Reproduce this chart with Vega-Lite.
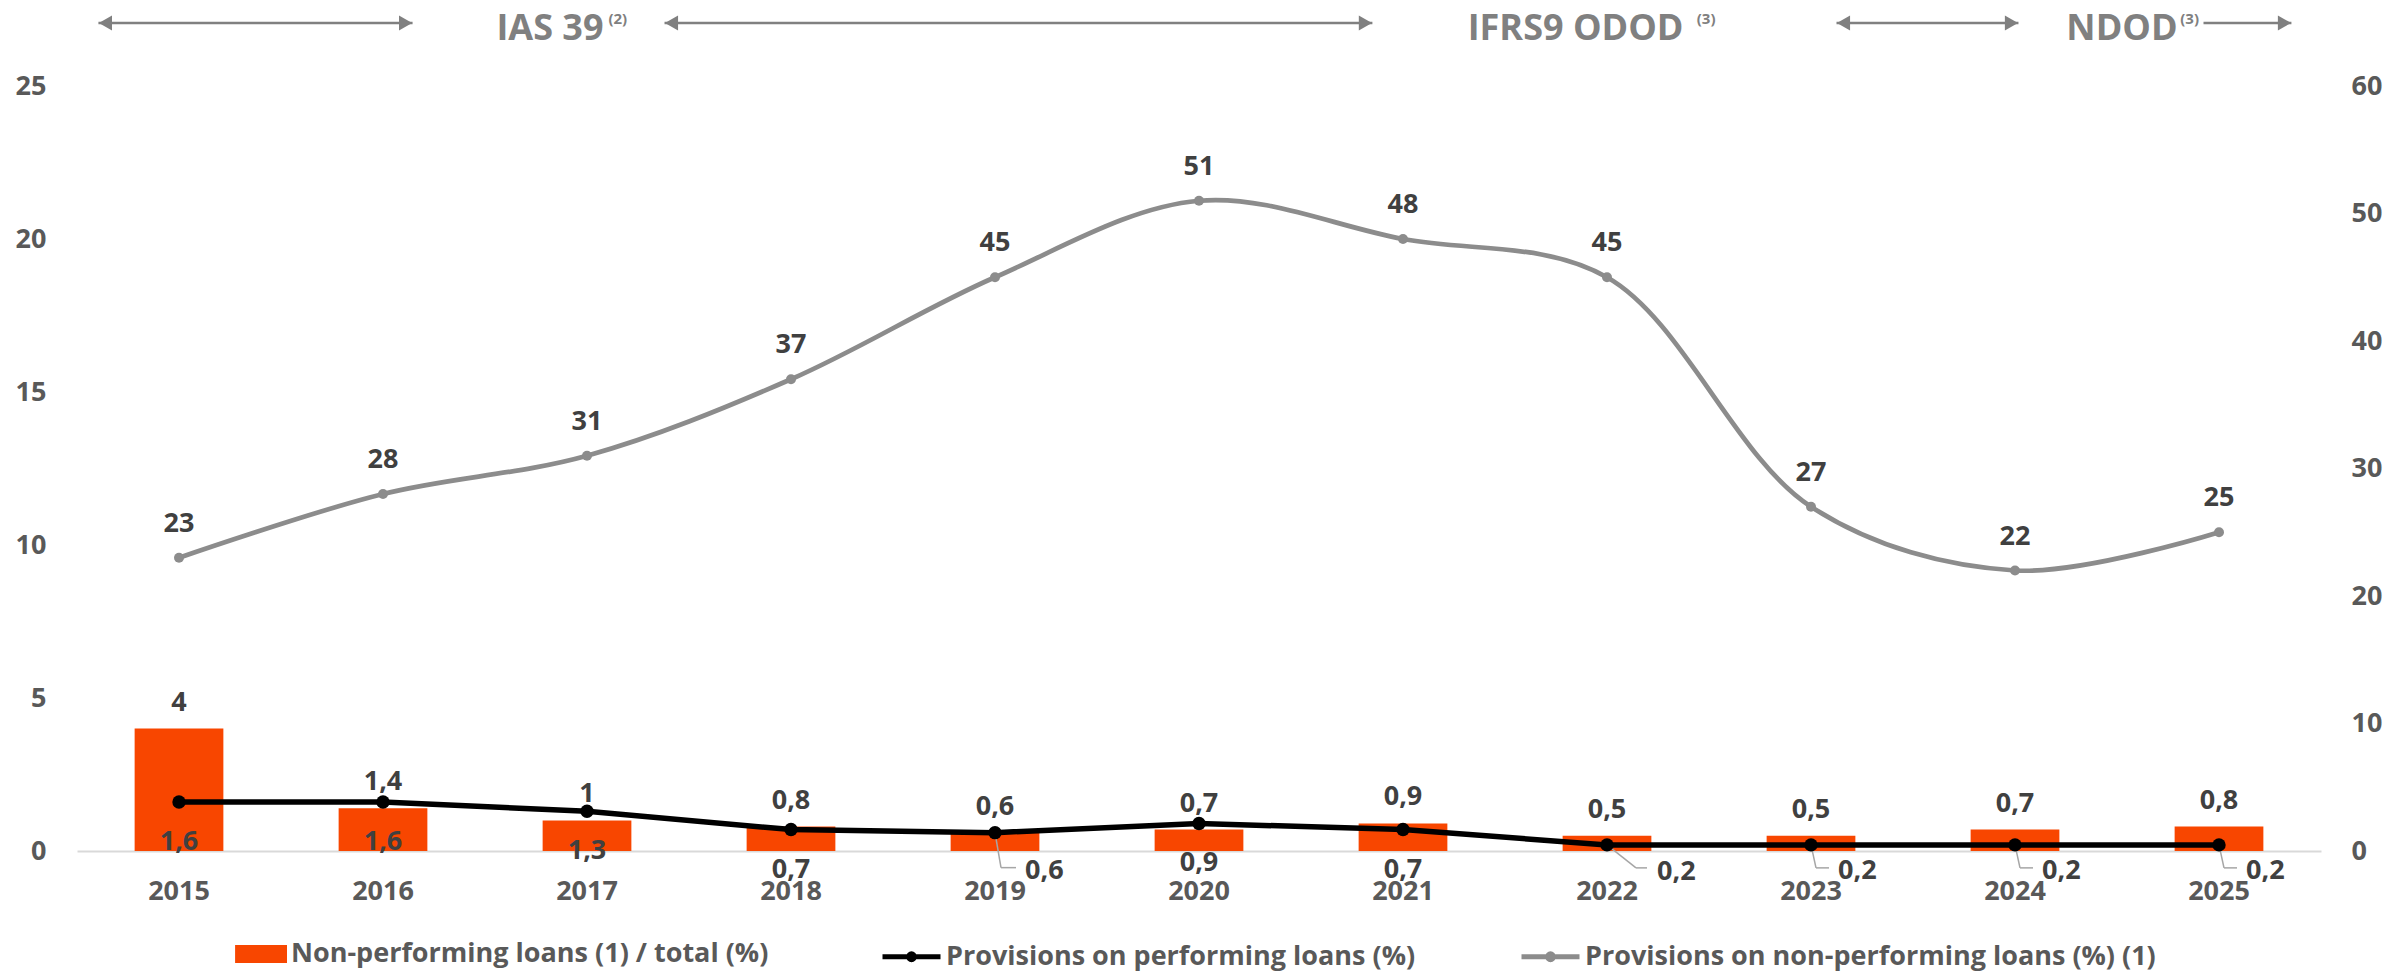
{
  "$schema": "https://vega.github.io/schema/vega-lite/v6.json",
  "width": 2244,
  "height": 765,
  "autosize": {"type": "none"},
  "padding": {"left": 77, "top": 86, "right": 86, "bottom": 122},
  "background": "#ffffff",
  "config": {
    "view": {"stroke": null},
    "font": "Open Sans",
    "locale": {"number": {"decimal": ",", "thousands": ".", "grouping": [3], "currency": ["", " €"]}},
    "axis": {"labelFont": "Open Sans", "labelFontWeight": "bold", "labelFontSize": 27, "labelColor": "#595959", "grid": false, "ticks": false, "domain": false, "title": null},
    "text": {"font": "Open Sans", "fontWeight": "bold", "fontSize": 27, "fill": "#404040"}
  },
  "datasets": {
    "series": [
      {"year": "2015", "key": "npl", "series": "Non-performing loans (1) / total (%)", "value": 4},
      {"year": "2016", "key": "npl", "series": "Non-performing loans (1) / total (%)", "value": 1.4},
      {"year": "2017", "key": "npl", "series": "Non-performing loans (1) / total (%)", "value": 1},
      {"year": "2018", "key": "npl", "series": "Non-performing loans (1) / total (%)", "value": 0.8},
      {"year": "2019", "key": "npl", "series": "Non-performing loans (1) / total (%)", "value": 0.6},
      {"year": "2020", "key": "npl", "series": "Non-performing loans (1) / total (%)", "value": 0.7},
      {"year": "2021", "key": "npl", "series": "Non-performing loans (1) / total (%)", "value": 0.9},
      {"year": "2022", "key": "npl", "series": "Non-performing loans (1) / total (%)", "value": 0.5},
      {"year": "2023", "key": "npl", "series": "Non-performing loans (1) / total (%)", "value": 0.5},
      {"year": "2024", "key": "npl", "series": "Non-performing loans (1) / total (%)", "value": 0.7},
      {"year": "2025", "key": "npl", "series": "Non-performing loans (1) / total (%)", "value": 0.8},
      {"year": "2015", "key": "perf", "series": "Provisions on performing loans (%)", "value": 1.6},
      {"year": "2016", "key": "perf", "series": "Provisions on performing loans (%)", "value": 1.6},
      {"year": "2017", "key": "perf", "series": "Provisions on performing loans (%)", "value": 1.3},
      {"year": "2018", "key": "perf", "series": "Provisions on performing loans (%)", "value": 0.7},
      {"year": "2019", "key": "perf", "series": "Provisions on performing loans (%)", "value": 0.6},
      {"year": "2020", "key": "perf", "series": "Provisions on performing loans (%)", "value": 0.9},
      {"year": "2021", "key": "perf", "series": "Provisions on performing loans (%)", "value": 0.7},
      {"year": "2022", "key": "perf", "series": "Provisions on performing loans (%)", "value": 0.2},
      {"year": "2023", "key": "perf", "series": "Provisions on performing loans (%)", "value": 0.2},
      {"year": "2024", "key": "perf", "series": "Provisions on performing loans (%)", "value": 0.2},
      {"year": "2025", "key": "perf", "series": "Provisions on performing loans (%)", "value": 0.2},
      {"year": "2015", "key": "prov", "series": "Provisions on non-performing loans (%) (1)", "value": 23},
      {"year": "2016", "key": "prov", "series": "Provisions on non-performing loans (%) (1)", "value": 28},
      {"year": "2017", "key": "prov", "series": "Provisions on non-performing loans (%) (1)", "value": 31},
      {"year": "2018", "key": "prov", "series": "Provisions on non-performing loans (%) (1)", "value": 37},
      {"year": "2019", "key": "prov", "series": "Provisions on non-performing loans (%) (1)", "value": 45},
      {"year": "2020", "key": "prov", "series": "Provisions on non-performing loans (%) (1)", "value": 51},
      {"year": "2021", "key": "prov", "series": "Provisions on non-performing loans (%) (1)", "value": 48},
      {"year": "2022", "key": "prov", "series": "Provisions on non-performing loans (%) (1)", "value": 45},
      {"year": "2023", "key": "prov", "series": "Provisions on non-performing loans (%) (1)", "value": 27},
      {"year": "2024", "key": "prov", "series": "Provisions on non-performing loans (%) (1)", "value": 22},
      {"year": "2025", "key": "prov", "series": "Provisions on non-performing loans (%) (1)", "value": 25}
    ],
    "arrows": [
      {"start": 2014.605, "end": 2016.145, "leftHead": true},
      {"start": 2017.38, "end": 2020.85, "leftHead": true},
      {"start": 2023.125, "end": 2024.017, "leftHead": true},
      {"start": 2024.924, "end": 2025.355, "leftHead": false}
    ],
    "notes": [
      {"pos": 2017.081, "text": "IAS 39", "note": "(2)", "notePos": 2017.105},
      {"pos": 2022.375, "text": "IFRS9 ODOD", "note": "(3)", "notePos": 2022.44},
      {"pos": 2024.797, "text": "NDOD", "note": "(3)", "notePos": 2024.81}
    ]
  },
  "layer": [
    {
      "data": {"name": "series"},
      "encoding": {
        "x": {"field": "year", "type": "ordinal", "scale": {"paddingInner": 0, "paddingOuter": 0},
              "axis": {"labelAngle": 0, "labelPadding": 27, "domain": true, "domainColor": "#d9d9d9", "domainWidth": 2}},
        "y": {"field": "value", "type": "quantitative", "scale": {"domain": [0, 25], "nice": false},
              "axis": {"values": [0, 5, 10, 15, 20, 25], "labelPadding": 31}}
      },
      "layer": [
        {
          "transform": [{"filter": "datum.key === 'npl'"}],
          "mark": {"type": "bar", "width": {"band": 0.435}},
          "encoding": {
            "fill": {"field": "series", "type": "nominal",
              "scale": {"domain": ["Non-performing loans (1) / total (%)"], "range": ["#F84600"]},
              "legend": {
                "orient": "none", "legendX": 152, "legendY": 839, "direction": "horizontal", "title": null,
                "labelFont": "Open Sans", "labelFontWeight": "bold", "labelFontSize": 27, "labelColor": "#595959",
                "labelOffset": 4, "symbolSize": 3364, "labelLimit": 1000,
                "symbolType": "M-0.79,-0.31H1V0.31H-0.79Z", "symbolStrokeWidth": 0, "symbolOpacity": 1
              }
            }
          }
        },
        {
          "transform": [{"filter": "datum.key === 'perf' && datum.year === '2019'"}],
          "mark": {"type": "rule", "color": "#a6a6a6", "strokeWidth": 1.5, "x2Offset": 6, "y2Offset": 35},
          "encoding": {"x2": {"field": "year"}, "y2": {"field": "value"}}
        },
        {
          "transform": [{"filter": "datum.key === 'perf' && datum.year === '2019'"}],
          "mark": {"type": "rule", "color": "#a6a6a6", "strokeWidth": 1.5, "xOffset": 6, "x2Offset": 21, "yOffset": 35, "y2Offset": 35},
          "encoding": {"x2": {"field": "year"}, "y2": {"field": "value"}}
        },
        {
          "transform": [{"filter": "datum.key === 'perf' && datum.year === '2022'"}],
          "mark": {"type": "rule", "color": "#a6a6a6", "strokeWidth": 1.5, "x2Offset": 29, "y2Offset": 23},
          "encoding": {"x2": {"field": "year"}, "y2": {"field": "value"}}
        },
        {
          "transform": [{"filter": "datum.key === 'perf' && datum.year === '2022'"}],
          "mark": {"type": "rule", "color": "#a6a6a6", "strokeWidth": 1.5, "xOffset": 29, "x2Offset": 40, "yOffset": 23, "y2Offset": 23},
          "encoding": {"x2": {"field": "year"}, "y2": {"field": "value"}}
        },
        {
          "transform": [{"filter": "datum.key === 'perf' && datum.year >= '2023'"}],
          "mark": {"type": "rule", "color": "#a6a6a6", "strokeWidth": 1.5, "x2Offset": 5, "y2Offset": 23},
          "encoding": {"x2": {"field": "year"}, "y2": {"field": "value"}}
        },
        {
          "transform": [{"filter": "datum.key === 'perf' && datum.year >= '2023'"}],
          "mark": {"type": "rule", "color": "#a6a6a6", "strokeWidth": 1.5, "xOffset": 5, "x2Offset": 18, "yOffset": 23, "y2Offset": 23},
          "encoding": {"x2": {"field": "year"}, "y2": {"field": "value"}}
        },
        {
          "transform": [{"filter": "datum.key === 'perf'"}],
          "mark": {"type": "line", "strokeWidth": 5.5},
          "encoding": {
            "stroke": {"field": "series", "type": "nominal",
              "scale": {"domain": ["Provisions on performing loans (%)", "Provisions on non-performing loans (%) (1)"], "range": ["#000000", "#8C8C8C"]},
              "legend": {
                "orient": "none", "legendX": 803, "legendY": 839, "direction": "horizontal", "title": null,
                "labelFont": "Open Sans", "labelFontWeight": "bold", "labelFontSize": 27, "labelColor": "#595959",
                "labelOffset": 3, "columnPadding": 95, "symbolSize": 3364, "labelLimit": 1000,
                "symbolType": "M-1,0H1M0.1,0A0.1,0.1,0,1,1,-0.1,0A0.1,0.1,0,1,1,0.1,0Z", "symbolStrokeWidth": 5, "symbolOpacity": 1
              }
            }
          }
        },
        {
          "transform": [{"filter": "datum.key === 'perf'"}],
          "mark": {"type": "point", "filled": true, "size": 180, "color": "#000000", "opacity": 1},
          "encoding": {}
        },
        {
          "transform": [{"filter": "datum.key === 'npl'"}],
          "mark": {"type": "text", "dy": -26, "baseline": "middle"},
          "encoding": {"text": {"field": "value", "type": "quantitative", "format": ".1~f"}}
        },
        {
          "transform": [{"filter": "datum.key === 'perf' && datum.year !== '2019' && datum.year < '2022'"}],
          "mark": {"type": "text", "dy": 40, "baseline": "middle"},
          "encoding": {"text": {"field": "value", "type": "quantitative", "format": ".1~f"}}
        },
        {
          "transform": [{"filter": "datum.key === 'perf' && datum.year === '2019'"}],
          "mark": {"type": "text", "dx": 30, "dy": 38, "align": "left", "baseline": "middle"},
          "encoding": {"text": {"field": "value", "type": "quantitative", "format": ".1~f"}}
        },
        {
          "transform": [{"filter": "datum.key === 'perf' && datum.year === '2022'"}],
          "mark": {"type": "text", "dx": 50, "dy": 27, "align": "left", "baseline": "middle"},
          "encoding": {"text": {"field": "value", "type": "quantitative", "format": ".1~f"}}
        },
        {
          "transform": [{"filter": "datum.key === 'perf' && datum.year >= '2023'"}],
          "mark": {"type": "text", "dx": 27, "dy": 26, "align": "left", "baseline": "middle"},
          "encoding": {"text": {"field": "value", "type": "quantitative", "format": ".1~f"}}
        }
      ]
    },
    {
      "data": {"name": "series"},
      "transform": [{"filter": "datum.key === 'prov'"}],
      "encoding": {
        "x": {"field": "year", "type": "ordinal", "scale": {"paddingInner": 0, "paddingOuter": 0}, "axis": null},
        "y": {"field": "value", "type": "quantitative", "scale": {"domain": [0, 60], "nice": false},
              "axis": {"orient": "right", "values": [0, 10, 20, 30, 40, 50, 60], "labelPadding": 30}}
      },
      "layer": [
        {
          "mark": {"type": "line", "interpolate": "catmull-rom", "strokeWidth": 4.7},
          "encoding": {
            "stroke": {"field": "series", "type": "nominal", "legend": null,
              "scale": {"domain": ["Provisions on performing loans (%)", "Provisions on non-performing loans (%) (1)"], "range": ["#000000", "#8C8C8C"]}}
          }
        },
        {
          "mark": {"type": "point", "filled": true, "size": 100, "color": "#8C8C8C", "opacity": 1},
          "encoding": {}
        },
        {
          "mark": {"type": "text", "dy": -34, "baseline": "middle"},
          "encoding": {"text": {"field": "value", "type": "quantitative", "format": ".1~f"}}
        }
      ]
    },
    {
      "layer": [
        {
          "data": {"name": "arrows"},
          "mark": {"type": "rule", "color": "#808080", "strokeWidth": 2.5},
          "encoding": {
            "x": {"field": "start", "type": "quantitative", "scale": {"domain": [2014.5, 2025.5], "nice": false, "zero": false}, "axis": null},
            "x2": {"field": "end"},
            "y": {"datum": 27.06, "type": "quantitative", "scale": {"domain": [0, 25], "nice": false}, "axis": null}
          }
        },
        {
          "data": {"name": "arrows"},
          "transform": [{"filter": "datum.leftHead"}],
          "mark": {"type": "point", "shape": "triangle-left", "filled": true, "size": 230, "color": "#808080", "opacity": 1, "xOffset": 7},
          "encoding": {
            "x": {"field": "start", "type": "quantitative"},
            "y": {"datum": 27.06, "type": "quantitative"}
          }
        },
        {
          "data": {"name": "arrows"},
          "mark": {"type": "point", "shape": "triangle-right", "filled": true, "size": 230, "color": "#808080", "opacity": 1, "xOffset": -7},
          "encoding": {
            "x": {"field": "end", "type": "quantitative"},
            "y": {"datum": 27.06, "type": "quantitative"}
          }
        },
        {
          "data": {"name": "notes"},
          "mark": {"type": "text", "align": "right", "baseline": "alphabetic", "dy": 17, "fontSize": 36, "fill": "#808080"},
          "encoding": {
            "x": {"field": "pos", "type": "quantitative"},
            "y": {"datum": 27.06, "type": "quantitative"},
            "text": {"field": "text"}
          }
        },
        {
          "data": {"name": "notes"},
          "mark": {"type": "text", "align": "left", "baseline": "alphabetic", "dy": 1, "fontSize": 15, "fill": "#808080"},
          "encoding": {
            "x": {"field": "notePos", "type": "quantitative"},
            "y": {"datum": 27.06, "type": "quantitative"},
            "text": {"field": "note"}
          }
        }
      ]
    }
  ],
  "resolve": {"scale": {"x": "independent", "y": "independent"}}
}
